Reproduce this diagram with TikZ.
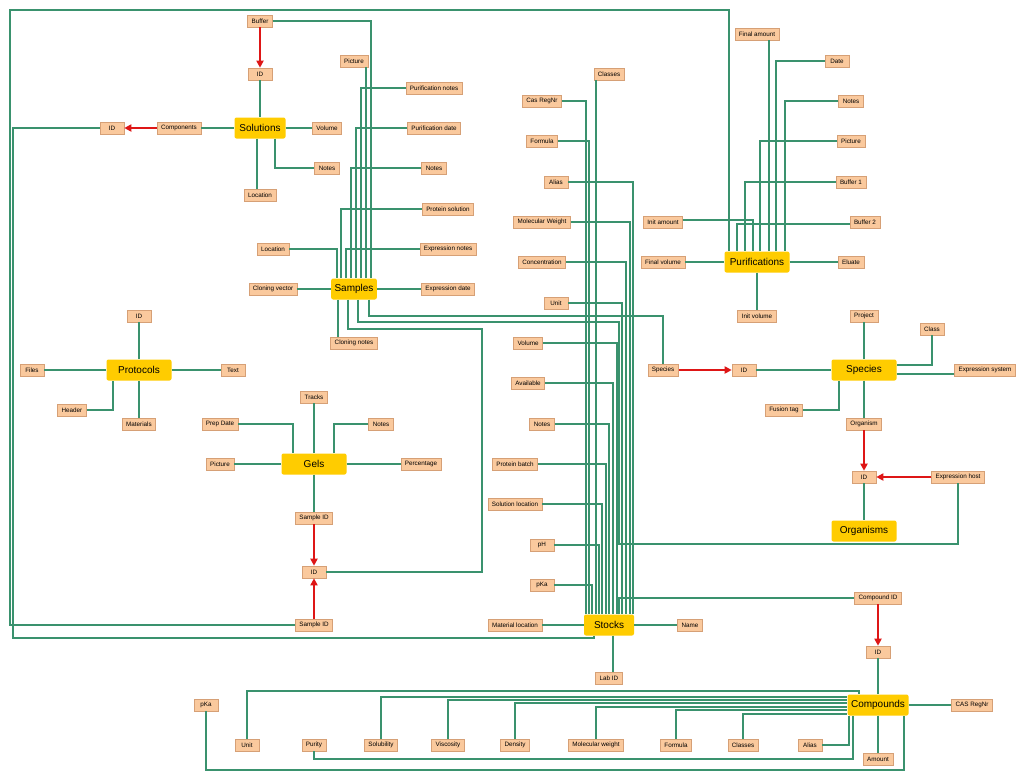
\documentclass[tikz,border=0pt]{standalone}
\usepackage{fontspec}
\setmainfont{Liberation Sans}
\usetikzlibrary{positioning, arrows.meta, calc}

\definecolor{linkgreen}{RGB}{58,146,110}
\definecolor{fieldfill}{RGB}{250,201,157}
\definecolor{fieldline}{RGB}{214,160,118}
\definecolor{tablegold}{RGB}{255,204,0}
\definecolor{keyred}{RGB}{222,22,22}

\begin{document}
\begin{tikzpicture}[x=1pt, y=-1pt, >={Triangle[length=7pt,width=7pt]},
	fieldbox/.style={rectangle, draw=fieldline, fill=fieldfill, line width=0.6pt, minimum height=12pt, minimum width=24pt, inner xsep=4pt, inner ysep=1pt, font=\fontsize{6.3}{7}\selectfont},
	tablebox/.style={rectangle, rounded corners=2pt, fill=tablegold, minimum height=21pt, minimum width=65pt, font=\fontsize{10}{12}\selectfont},
	link/.style={draw=linkgreen, line width=1.8pt},
	fkey/.style={->, draw=keyred, fill=keyred, line width=1.8pt}]
		
		\useasboundingbox[fill=white] (0,0) rectangle (1024,780);
		
		% Solutions table
		\node[tablebox, minimum width=51pt] (solutions) at (260,128) {Solutions};
		\node[fieldbox] (solBuffer) at (260,21) {Buffer};
		\node[fieldbox] (solID) at (260,74) {ID};
		\node[fieldbox] (solComponents) at (179,128) {Components};
		\node[fieldbox] (compRefID) at (112,128) {ID};
		\node[fieldbox] (solVolume) at (327,128) {Volume};
		\node[fieldbox] (solNotes) at (327,168) {Notes};
		\node[fieldbox] (solLocation) at (260,195) {Location};
		
		% Samples table
		\node[tablebox, minimum width=43pt] (samples) at (354,289) {Samples};
		\node[fieldbox] (smpPicture) at (354,61) {Picture};
		\node[fieldbox] (smpPurNotes) at (434,88) {Purification notes};
		\node[fieldbox] (smpPurDate) at (434,128) {Purification date};
		\node[fieldbox] (smpNotes) at (434,168) {Notes};
		\node[fieldbox] (smpProtSol) at (448,209) {Protein solution};
		\node[fieldbox] (smpExprNotes) at (448,249) {Expression notes};
		\node[fieldbox] (smpExprDate) at (448,289) {Expression date};
		\node[fieldbox] (smpLocation) at (273,249) {Location};
		\node[fieldbox] (smpCloneVec) at (273,289) {Cloning vector};
		\node[fieldbox] (smpCloneNotes) at (354,343) {Cloning notes};
		\node[fieldbox] (smpSpecies) at (663,370) {Species};
		\node[fieldbox] (smpExprHost) at (958,477) {Expression host};
		
		% Protocols table
		\node[tablebox] (protocols) at (139,370) {Protocols};
		\node[fieldbox] (proID) at (139,316) {ID};
		\node[fieldbox] (proFiles) at (32,370) {Files};
		\node[fieldbox] (proText) at (233,370) {Text};
		\node[fieldbox] (proHeader) at (72,410) {Header};
		\node[fieldbox] (proMaterials) at (139,424) {Materials};
		
		% Gels table
		\node[tablebox] (gels) at (314,464) {Gels};
		\node[fieldbox] (gelTracks) at (314,397) {Tracks};
		\node[fieldbox] (gelPrepDate) at (220,424) {Prep Date};
		\node[fieldbox] (gelNotes) at (381,424) {Notes};
		\node[fieldbox] (gelPicture) at (220,464) {Picture};
		\node[fieldbox] (gelPercent) at (421,464) {Percentage};
		\node[fieldbox] (gelSampleID) at (314,518) {Sample ID};
		\node[fieldbox] (smpID) at (314,572) {ID};
		\node[fieldbox] (purSampleID) at (314,625) {Sample ID};
		
		% Stocks table
		\node[tablebox, minimum width=50pt] (stocks) at (609,625) {Stocks};
		\node[fieldbox] (stkClasses) at (609,74) {Classes};
		\node[fieldbox] (stkCas) at (542,101) {Cas RegNr};
		\node[fieldbox] (stkFormula) at (542,141) {Formula};
		\node[fieldbox] (stkAlias) at (556,182) {Alias};
		\node[fieldbox] (stkMolW) at (542,222) {Molecular Weight};
		\node[fieldbox] (stkConc) at (542,262) {Concentration};
		\node[fieldbox] (stkUnit) at (556,303) {Unit};
		\node[fieldbox] (stkVolume) at (528,343) {Volume};
		\node[fieldbox] (stkAvail) at (528,383) {Available};
		\node[fieldbox] (stkNotes) at (542,424) {Notes};
		\node[fieldbox] (stkBatch) at (515,464) {Protein batch};
		\node[fieldbox] (stkSolLoc) at (515,504) {Solution location};
		\node[fieldbox] (stkPH) at (542,545) {pH};
		\node[fieldbox] (stkPKa) at (542,585) {pKa};
		\node[fieldbox] (stkMatLoc) at (515,625) {Material location};
		\node[fieldbox] (stkName) at (690,625) {Name};
		\node[fieldbox] (stkLabID) at (609,678) {Lab ID};
		\node[fieldbox] (stkCompID) at (878,598) {Compound ID};
		
		% Purifications table
		\node[tablebox] (purifications) at (757,262) {Purifications};
		\node[fieldbox] (purFinalAmt) at (757,34) {Final amount};
		\node[fieldbox] (purDate) at (837,61) {Date};
		\node[fieldbox] (purNotes) at (851,101) {Notes};
		\node[fieldbox] (purPicture) at (851,141) {Picture};
		\node[fieldbox] (purBuffer1) at (851,182) {Buffer 1};
		\node[fieldbox] (purBuffer2) at (865,222) {Buffer 2};
		\node[fieldbox] (purInitAmt) at (663,222) {Init amount};
		\node[fieldbox] (purFinalVol) at (663,262) {Final volume};
		\node[fieldbox] (purEluate) at (851,262) {Eluate};
		\node[fieldbox] (purInitVol) at (757,316) {Init volume};
		
		% Species and Organisms tables
		\node[tablebox] (species) at (864,370) {Species};
		\node[fieldbox] (spcID) at (744,370) {ID};
		\node[fieldbox] (spcProject) at (864,316) {Project};
		\node[fieldbox] (spcClass) at (932,329) {Class};
		\node[fieldbox] (spcExprSys) at (985,370) {Expression system};
		\node[fieldbox] (spcFusion) at (784,410) {Fusion tag};
		\node[fieldbox] (spcOrganism) at (864,424) {Organism};
		\node[tablebox] (organisms) at (864,531) {Organisms};
		\node[fieldbox] (orgID) at (864,477) {ID};
		
		% Compounds table
		\node[tablebox, minimum width=61pt] (compounds) at (878,705) {Compounds};
		\node[fieldbox] (cmpID) at (878,652) {ID};
		\node[fieldbox] (cmpCas) at (972,705) {CAS RegNr};
		\node[fieldbox] (cmpPKa) at (206,705) {pKa};
		\node[fieldbox] (cmpUnit) at (247,745) {Unit};
		\node[fieldbox] (cmpPurity) at (314,745) {Purity};
		\node[fieldbox] (cmpSolub) at (381,745) {Solubility};
		\node[fieldbox] (cmpVisc) at (448,745) {Viscosity};
		\node[fieldbox] (cmpDensity) at (515,745) {Density};
		\node[fieldbox] (cmpMolW) at (596,745) {Molecular weight};
		\node[fieldbox] (cmpFormula) at (676,745) {Formula};
		\node[fieldbox] (cmpClasses) at (743,745) {Classes};
		\node[fieldbox] (cmpAlias) at (810,745) {Alias};
		\node[fieldbox] (cmpAmount) at (878,759) {Amount};
		
		% Solutions links
		\draw[link] (solID) -- (solutions);
		\draw[link] (solComponents) -- (solutions);
		\draw[link] (solutions) -- (solVolume);
		\draw[link] (257,0 |- solutions.south) -- (257,0 |- solLocation.north);
		\draw[link] (275,0 |- solutions.south) |- (solNotes.west);
		
		% Samples links
		\draw[link] (solBuffer.east) -| (371,0 |- samples.north);
		\draw[link] (366,0 |- smpPicture.south) -- (366,0 |- samples.north);
		\draw[link] (smpPurNotes.west) -| (361,0 |- samples.north);
		\draw[link] (smpPurDate.west) -| (356,0 |- samples.north);
		\draw[link] (smpNotes.west) -| (351,0 |- samples.north);
		\draw[link] (smpExprNotes.west) -| (346,0 |- samples.north);
		\draw[link] (smpProtSol.west) -| (341,0 |- samples.north);
		\draw[link] (smpLocation.east) -| (337,0 |- samples.north);
		\draw[link] (smpCloneVec) -- (samples);
		\draw[link] (samples) -- (smpExprDate);
		\draw[link] (338,0 |- samples.south) -- (338,0 |- smpCloneNotes.north);
		\draw[link] (348,0 |- samples.south) |- (482,329) |- (smpID.east);
		\draw[link] (358,0 |- samples.south) |- (619,322) -- (619,544) -| (smpExprHost.south);
		\draw[link] (369,0 |- samples.south) |- (663,316) -- (smpSpecies.north);
		
		% Protocols links
		\draw[link] (proID) -- (protocols);
		\draw[link] (proFiles) -- (protocols);
		\draw[link] (protocols) -- (proText);
		\draw[link] (proMaterials) -- (protocols);
		\draw[link] (proHeader.east) -| (113,0 |- protocols.south);
		
		% Gels links
		\draw[link] (gelTracks) -- (gels);
		\draw[link] (gelPrepDate.east) -| (293,0 |- gels.north);
		\draw[link] (gelNotes.west) -| (334,0 |- gels.north);
		\draw[link] (gelPicture) -- (gels);
		\draw[link] (gels) -- (gelPercent);
		\draw[link] (gels) -- (gelSampleID);
		
		% Purifications links
		\draw[link] (purSampleID.west) -| (10,10) -| (729,0 |- purifications.north);
		\draw[link] (769,0 |- purFinalAmt.south) -- (769,0 |- purifications.north);
		\draw[link] (purDate.west) -| (776,0 |- purifications.north);
		\draw[link] (purNotes.west) -| (785,0 |- purifications.north);
		\draw[link] (purPicture.west) -| (760,0 |- purifications.north);
		\draw[link] (purBuffer1.west) -| (745,0 |- purifications.north);
		\draw[link] ([yshift=-2pt]purBuffer2.west) -| (737,0 |- purifications.north);
		\draw[link] ([yshift=2pt]purInitAmt.east) -| (753,0 |- purifications.north);
		\draw[link] (purFinalVol) -- (purifications);
		\draw[link] (purifications) -- (purEluate);
		\draw[link] (purifications) -- (purInitVol);
		
		% Stocks links
		\foreach \f/\x in {stkCas/586, stkFormula/589, stkPKa/592, stkPH/599, stkSolLoc/602, stkBatch/606, stkNotes/609, stkAvail/613, stkVolume/617, stkUnit/622, stkConc/626, stkMolW/630, stkAlias/633} {
			\draw[link] (\f.east) -| (\x,0 |- stocks.north);
		}
		\draw[link] (596,0 |- stkClasses.south) -- (596,0 |- stocks.north);
		\draw[link] (stkMatLoc) -- (stocks);
		\draw[link] (stocks) -- (stkName);
		\draw[link] (613,0 |- stocks.south) -- (613,0 |- stkLabID.north);
		\draw[link] (619,0 |- stocks.north) |- (stkCompID.west);
		\draw[link] (594,0 |- stocks.south) |- (13,638) |- (compRefID.west);
		
		% Species and Organisms links
		\draw[link] (spcID) -- (species);
		\draw[link] (spcProject) -- (species);
		\draw[link] (spcClass.south) |- ([yshift=5pt]species.east);
		\draw[link] ([yshift=-4pt]species.east) -- ([yshift=-4pt]spcExprSys.west);
		\draw[link] (spcFusion.east) -| (839,0 |- species.south);
		\draw[link] (species) -- (spcOrganism);
		\draw[link] (orgID) -- (organisms);
		
		% Compounds links
		\draw[link] (cmpID) -- (compounds);
		\draw[link] (compounds) -- (cmpCas);
		\draw[link] (cmpUnit.north) |- (859,691) -- (859,0 |- compounds.north);
		\foreach \f/\y in {cmpSolub/697, cmpVisc/700, cmpDensity/703, cmpMolW/707, cmpFormula/710, cmpClasses/714} {
			\draw[link] (\f.north) |- (compounds.west |- 0,\y);
		}
		\draw[link] (cmpAlias.east) -| (849,0 |- compounds.south);
		\draw[link] (cmpPurity.south) |- (853,759) -- (853,0 |- compounds.south);
		\draw[link] (cmpPKa.south) |- (904,770) -- (904,0 |- compounds.south);
		\draw[link] (compounds) -- (cmpAmount);
		
		% Key references
		\draw[fkey] (solBuffer) -- (solID);
		\draw[fkey] (solComponents) -- (compRefID);
		\draw[fkey] (gelSampleID) -- (smpID);
		\draw[fkey] (purSampleID) -- (smpID);
		\draw[fkey] (smpSpecies) -- (spcID);
		\draw[fkey] (spcOrganism) -- (orgID);
		\draw[fkey] (smpExprHost) -- (orgID);
		\draw[fkey] (stkCompID) -- (cmpID);
	\end{tikzpicture}
\end{document}
